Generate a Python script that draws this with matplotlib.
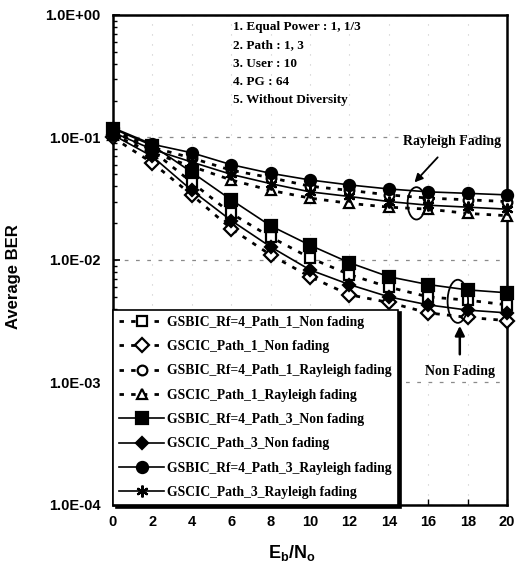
import matplotlib
matplotlib.use("Agg")
import matplotlib.pyplot as plt
from matplotlib.patches import Ellipse
from matplotlib.ticker import FixedLocator, FuncFormatter, LogLocator, NullFormatter

plt.rcParams["font.family"] = "Liberation Sans"
plt.rcParams["font.weight"] = "bold"
plt.rcParams["mathtext.fontset"] = "custom"
plt.rcParams["mathtext.bf"] = "Liberation Sans:bold"
plt.rcParams["mathtext.rm"] = "Liberation Sans:bold"

# Eb/No values (dB)
ebno = [0, 2, 4, 6, 8, 10, 12, 14, 16, 18, 20]

# Average BER
bic_p1_nf = [0.112, 0.078, 0.043, 0.024, 0.0154, 0.0104, 0.0076, 0.0060, 0.0050, 0.0047, 0.0043]
cic_p1_nf = [0.100, 0.062, 0.034, 0.018, 0.0110, 0.0073, 0.0052, 0.0045, 0.0037, 0.0034, 0.0032]
bic_p1_ray = [0.115, 0.083, 0.068, 0.054, 0.047, 0.040, 0.037, 0.034, 0.032, 0.031, 0.030]
cic_p1_ray = [0.105, 0.075, 0.058, 0.045, 0.037, 0.032, 0.029, 0.027, 0.026, 0.024, 0.023]
bic_p3_nf = [0.118, 0.086, 0.052, 0.031, 0.019, 0.0132, 0.0095, 0.0073, 0.0063, 0.0057, 0.0054]
cic_p3_nf = [0.105, 0.070, 0.037, 0.021, 0.0128, 0.0083, 0.0063, 0.0050, 0.0043, 0.0039, 0.0037]
bic_p3_ray = [0.120, 0.088, 0.075, 0.060, 0.051, 0.045, 0.041, 0.038, 0.036, 0.035, 0.034]
cic_p3_ray = [0.110, 0.080, 0.063, 0.050, 0.042, 0.036, 0.033, 0.030, 0.028, 0.027, 0.026]

labels = [
    "GSBIC_Rf=4_Path_1_Non fading",
    "GSCIC_Path_1_Non fading",
    "GSBIC_Rf=4_Path_1_Rayleigh fading",
    "GSCIC_Path_1_Rayleigh fading",
    "GSBIC_Rf=4_Path_3_Non fading",
    "GSCIC_Path_3_Non fading",
    "GSBIC_Rf=4_Path_3_Rayleigh fading",
    "GSCIC_Path_3_Rayleigh fading",
]

notes = ["1. Equal Power : 1, 1/3", "2. Path : 1, 3", "3. User : 10", "4. PG : 64", "5. Without Diversity"]

x_ticks = [0, 2, 4, 6, 8, 10, 12, 14, 16, 18, 20]
y_ticks = [1e-4, 1e-3, 1e-2, 1e-1, 1e0]

serif = "Liberation Serif"
dash = (0, (1.6, 2.6))

fig = plt.figure(figsize=(5.29, 5.66), dpi=100)
ax = fig.add_axes([0.2136, 0.1078, 0.745, 0.8657])

series = [
    (bic_p1_nf, dict(ls=dash, lw=2.0, marker="s", ms=7.5, mfc="white")),
    (cic_p1_nf, dict(ls=dash, lw=2.0, marker="D", ms=7, mfc="white")),
    (bic_p1_ray, dict(ls=dash, lw=2.0, marker="o", ms=7, mfc="white")),
    (cic_p1_ray, dict(ls=dash, lw=2.0, marker="^", ms=7, mfc="white")),
    (bic_p3_nf, dict(ls="-", lw=1.2, marker="s", ms=8, mfc="black")),
    (cic_p3_nf, dict(ls="-", lw=1.2, marker="D", ms=6, mfc="black")),
    (bic_p3_ray, dict(ls="-", lw=1.2, marker="o", ms=8, mfc="black")),
    (cic_p3_ray, dict(ls="-", lw=1.2, marker=(6, 2, 0), ms=8.5, mfc="black")),
]
for (vals, style), lab in zip(series, labels):
    ax.plot(ebno, vals, color="black", mec="black", mew=1.6, label=lab, clip_on=False, zorder=3, **style)

ax.set_yscale("log")
ax.set_xlim(0, 20)
ax.set_ylim(1e-4, 1e0)
ax.xaxis.set_major_locator(FixedLocator(x_ticks))
ax.yaxis.set_major_locator(FixedLocator(y_ticks))
ax.yaxis.set_minor_locator(LogLocator(base=10, subs=range(2, 10)))
ax.yaxis.set_minor_formatter(NullFormatter())
ax.yaxis.set_major_formatter(FuncFormatter(lambda v, p: f"{v:.1E}"))
ax.tick_params(axis="both", which="both", direction="in", labelsize=10.5)
ax.tick_params(axis="y", which="major", length=5, width=1.2, pad=9)
ax.tick_params(axis="y", which="minor", length=3, width=1.0)
ax.tick_params(axis="x", which="major", length=4, width=1.0, pad=7)
for sp in ax.spines.values():
    sp.set_linewidth(1.8)

ax.grid(axis="y", which="major", color="#8a8a8a", ls=(0, (3, 6)), lw=0.9)
ax.grid(axis="x", which="major", color="#c8c8c8", ls=(0, (1, 8)), lw=0.8)

fig.text(14 / 529, 1 - 277 / 566, "Average BER", rotation=90, ha="center", va="center", fontsize=12)
fig.text(292 / 529, 1 - 553 / 566, r"$\mathbf{E_b/N_o}$", ha="center", va="center", fontsize=13)

# parameter list
for i, t in enumerate(notes):
    ax.text(0.305, 0.976 - i * 0.0375, t, transform=ax.transAxes, family=serif, fontsize=9.5,
            ha="left", va="center")

leg = ax.legend(loc="lower left", bbox_to_anchor=(0.0, 0.0), borderaxespad=0.0, frameon=True,
                fancybox=False, shadow={"color": "black", "alpha": 1.0}, handlelength=3.3,
                handletextpad=0.25, labelspacing=0.83, borderpad=0.45,
                prop={"family": serif, "weight": "bold", "size": 9.8})
leg.get_frame().set_edgecolor("black")
leg.get_frame().set_linewidth(1.2)
leg.set_zorder(5)


def to_axes(x, y):
    return ax.transAxes.inverted().transform(ax.transData.transform((x, y)))


# Rayleigh fading group annotation
cx, cy = to_axes(15.4, 0.029)
ax.add_patch(Ellipse((cx, cy), 0.045, 0.066, transform=ax.transAxes, fill=False, ec="black", lw=1.3, zorder=4))
ax.annotate("Rayleigh Fading", xy=(15.3, 0.043), xytext=(17.2, 0.092), family=serif, fontsize=10,
            ha="center", va="center",
            arrowprops=dict(arrowstyle="-|>", color="black", lw=1.3, shrinkA=6, shrinkB=0, mutation_scale=12))

# Non fading group annotation
cx, cy = to_axes(17.5, 0.0046)
ax.add_patch(Ellipse((cx, cy), 0.052, 0.088, transform=ax.transAxes, fill=False, ec="black", lw=1.3, zorder=4))
ax.annotate("Non Fading", xy=(17.6, 0.0029), xytext=(17.6, 0.00122), family=serif, fontsize=10,
            ha="center", va="center",
            arrowprops=dict(arrowstyle="-|>", color="black", lw=1.8, shrinkA=6, shrinkB=0, mutation_scale=14))

fig.savefig("out.png", dpi=100)
